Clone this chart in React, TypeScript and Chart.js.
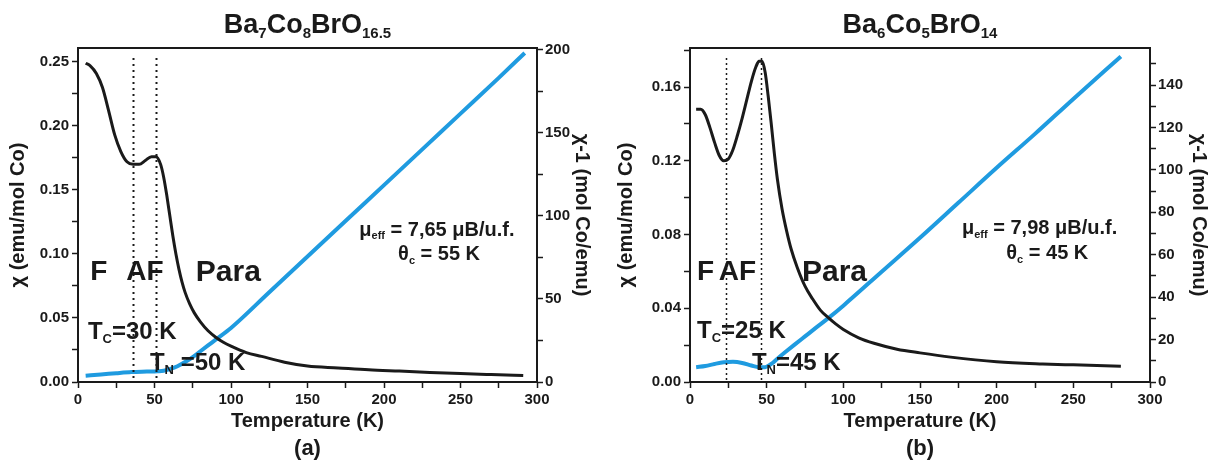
import React, { useEffect, useRef } from 'react';
import { Chart, registerables } from 'chart.js';
Chart.register(...registerables);

// ---------- DATA ----------
// Panel (a) Ba7Co8BrO16.5
const tempChiA = [5, 8, 12, 16, 20, 24, 28, 32, 36, 40, 44, 48, 51, 54, 56, 58, 60, 62, 64, 66, 68, 70, 73, 76, 80, 85, 90, 95, 100, 110, 120, 135, 150, 170, 190, 210, 230, 250, 270, 291];
const chiA = [0.249, 0.247, 0.241, 0.230, 0.212, 0.193, 0.180, 0.172, 0.170, 0.170, 0.173, 0.176, 0.176, 0.170, 0.160, 0.146, 0.130, 0.114, 0.100, 0.088, 0.078, 0.070, 0.061, 0.054, 0.047, 0.040, 0.035, 0.031, 0.028, 0.023, 0.020, 0.0155, 0.0125, 0.011, 0.0095, 0.0085, 0.0075, 0.0066, 0.0058, 0.005];
const tempInvA = [5, 15, 25, 35, 45, 52, 56, 60, 65, 70, 75, 80, 85, 90, 100, 125, 150, 175, 200, 225, 250, 275, 292];
const chiInvA = [3.8, 4.5, 5.3, 6.0, 6.3, 6.5, 6.8, 7.8, 9.5, 12, 15, 18.5, 22, 25.5, 32.5, 54, 75.5, 97, 118.5, 140, 161.5, 183, 198];
const transitionsA = [36, 51];

// Panel (b) Ba6Co5BrO14
const tempChiB = [4, 7, 10, 13, 16, 19, 22, 25, 28, 31, 34, 37, 40, 43, 45, 47, 49, 51, 53, 55, 57, 60, 63, 66, 70, 75, 80, 85, 90, 95, 100, 110, 120, 135, 150, 170, 200, 230, 250, 281];
const chiB = [0.148, 0.148, 0.145, 0.138, 0.130, 0.123, 0.120, 0.121, 0.126, 0.134, 0.143, 0.153, 0.163, 0.171, 0.174, 0.174, 0.168, 0.155, 0.140, 0.124, 0.110, 0.094, 0.082, 0.072, 0.062, 0.052, 0.045, 0.039, 0.035, 0.0315, 0.0285, 0.024, 0.021, 0.0178, 0.0158, 0.0135, 0.011, 0.0098, 0.0093, 0.0086];
const tempInvB = [4, 10, 16, 22, 28, 34, 40, 45, 49, 53, 57, 62, 68, 75, 82, 90, 100, 125, 150, 175, 200, 225, 250, 281];
const chiInvB = [7, 7.5, 8.5, 9.3, 9.5, 9, 7.8, 7, 7, 8.5, 11, 14, 17.5, 21.5, 25.5, 30, 36, 52, 68, 84.5, 101, 117, 133.5, 153.5];
const transitionsB = [23.5, 46.3];

const xTicksLabelStep = 50;

// ---------- STYLE ----------
const FONT = '"Liberation Sans", Arial, Helvetica, sans-serif';
const BLACK = '#1a1a1a';
const BLUE = '#1f9be0';

type Seg = [string, boolean];
type TextItem = { segs: Seg[]; T: number; v: number; size: number; align: 'left' | 'center' };

type Panel = {
  t: number[]; chi: number[]; tInv: number[]; chiInv: number[];
  transitions: number[];
  yMax: number; yStep: number; yMajor: number;
  y2Max: number; y2Step: number; y2Major: number;
  left: number; right: number; top: number; bottom: number;
  leftTitlePad: number; rightTitlePad: number;
  title: Seg[]; label: string; texts: TextItem[];
  dotWidth: number; dash: number[];
};

const panelA: Panel = {
  t: tempChiA, chi: chiA, tInv: tempInvA, chiInv: chiInvA, transitions: transitionsA,
  yMax: 0.2609, yStep: 0.025, yMajor: 0.05,
  y2Max: 201, y2Step: 25, y2Major: 50,
  left: 78, right: 77, top: 48, bottom: 86,
  leftTitlePad: 6, rightTitlePad: 20,
  title: [['Ba', false], ['7', true], ['Co', false], ['8', true], ['BrO', false], ['16.5', true]],
  label: '(a)',
  dotWidth: 2, dash: [2, 4],
  texts: [
    { segs: [['F', false]], T: 8, v: 0.0875, size: 28, align: 'left' },
    { segs: [['AF', false]], T: 31.5, v: 0.0875, size: 28, align: 'left' },
    { segs: [['Para', false]], T: 77, v: 0.0875, size: 30, align: 'left' },
    { segs: [['\u03bc', false], ['eff', true], [' = 7,65 \u03bcB/u.f.', false]], T: 234.6, v: 0.120, size: 20, align: 'center' },
    { segs: [['\u03b8', false], ['c', true], [' = 55 K', false]], T: 236, v: 0.1008, size: 20, align: 'center' },
    { segs: [['T', false], ['C', true], ['=30 K', false]], T: 6.5, v: 0.0406, size: 24, align: 'left' },
    { segs: [['T', false], ['N', true], [' =50 K', false]], T: 47, v: 0.0164, size: 24, align: 'left' },
  ],
};

const panelB: Panel = {
  t: tempChiB, chi: chiB, tInv: tempInvB, chiInv: chiInvB, transitions: transitionsB,
  yMax: 0.1812, yStep: 0.02, yMajor: 0.04,
  y2Max: 157.5, y2Step: 10, y2Major: 20,
  left: 76, right: 78, top: 48, bottom: 86,
  leftTitlePad: 0, rightTitlePad: 17,
  title: [['Ba', false], ['6', true], ['Co', false], ['5', true], ['BrO', false], ['14', true]],
  label: '(b)',
  dotWidth: 1.5, dash: [2, 3],
  texts: [
    { segs: [['F', false]], T: 4.6, v: 0.0607, size: 28, align: 'left' },
    { segs: [['AF', false]], T: 18.8, v: 0.0607, size: 28, align: 'left' },
    { segs: [['Para', false]], T: 73, v: 0.0607, size: 30, align: 'left' },
    { segs: [['\u03bc', false], ['eff', true], [' = 7,98 \u03bcB/u.f.', false]], T: 228, v: 0.084, size: 20, align: 'center' },
    { segs: [['\u03b8', false], ['c', true], [' = 45 K', false]], T: 233, v: 0.0705, size: 20, align: 'center' },
    { segs: [['T', false], ['C', true], ['=25 K', false]], T: 4.6, v: 0.0287, size: 24, align: 'left' },
    { segs: [['T', false], ['N', true], ['=45 K', false]], T: 40.4, v: 0.0114, size: 24, align: 'left' },
  ],
};

// ---------- HELPERS ----------
function drawRich(ctx: CanvasRenderingContext2D, segs: Seg[], x: number, baseline: number, align: 'left' | 'center', size: number, subSize: number) {
  const widths = segs.map(([txt, sub]) => {
    ctx.font = `bold ${sub ? subSize : size}px ${FONT}`;
    return ctx.measureText(txt).width;
  });
  const total = widths.reduce((a, b) => a + b, 0);
  let cx = align === 'center' ? x - total / 2 : x;
  ctx.textAlign = 'left';
  ctx.textBaseline = 'alphabetic';
  segs.forEach(([txt, sub], i) => {
    ctx.font = `bold ${sub ? subSize : size}px ${FONT}`;
    ctx.fillText(txt, cx, baseline + (sub ? size * 0.18 : 0));
    cx += widths[i];
  });
}

function isMajor(v: number, major: number) {
  const r = v / major;
  return Math.abs(r - Math.round(r)) < 1e-6;
}

function makePlugin(p: Panel) {
  return {
    id: 'annot',
    afterDraw(chart: any) {
      const ctx: CanvasRenderingContext2D = chart.ctx;
      const { left, right, top, bottom } = chart.chartArea;
      const xs = chart.scales.x;
      const ys = chart.scales.y;
      ctx.save();
      // top frame line
      ctx.strokeStyle = BLACK;
      ctx.lineWidth = 2;
      ctx.beginPath();
      ctx.moveTo(left - 1, top);
      ctx.lineTo(right + 1, top);
      ctx.stroke();
      // transition dotted lines
      ctx.lineWidth = p.dotWidth;
      ctx.setLineDash(p.dash);
      p.transitions.forEach((T) => {
        const px = Math.round(xs.getPixelForValue(T)) + 0.5;
        ctx.beginPath();
        ctx.moveTo(px, top + 10);
        ctx.lineTo(px, bottom);
        ctx.stroke();
      });
      ctx.setLineDash([]);
      // texts
      ctx.fillStyle = BLACK;
      p.texts.forEach((t) => {
        const x = xs.getPixelForValue(t.T);
        const y = ys.getPixelForValue(t.v) + t.size * 0.36;
        drawRich(ctx, t.segs, x, y, t.align, t.size, Math.round(t.size * 0.55));
      });
      // title
      const cx = (left + right) / 2;
      drawRich(ctx, p.title, cx, 33, 'center', 27, 15);
      // panel label
      ctx.font = `bold 22px ${FONT}`;
      ctx.textAlign = 'center';
      ctx.textBaseline = 'middle';
      ctx.fillText(p.label, cx, 449);
      ctx.restore();
    },
  };
}

function toXY(xs: number[], ys: number[]) {
  return xs.map((x, i) => ({ x, y: ys[i] }));
}

function makeConfig(p: Panel): any {
  const tickFont = { family: FONT, size: 15, weight: 'bold' as const };
  const titleFont = { family: FONT, size: 20, weight: 'bold' as const };
  const grid = { drawOnChartArea: false, drawTicks: true, tickLength: 6, tickColor: BLACK, tickWidth: 1.5 };
  const border = { display: true, color: BLACK, width: 2 };
  return {
    type: 'line',
    data: {
      datasets: [
        {
          data: toXY(p.t, p.chi), yAxisID: 'y', borderColor: BLACK, borderWidth: 3,
          pointRadius: 0, tension: 0.4, cubicInterpolationMode: 'monotone', fill: false,
        },
        {
          data: toXY(p.tInv, p.chiInv), yAxisID: 'y2', borderColor: BLUE, borderWidth: 4,
          pointRadius: 0, tension: 0.4, cubicInterpolationMode: 'monotone', fill: false,
        },
      ],
    },
    options: {
      responsive: false,
      animation: false,
      devicePixelRatio: 1,
      layout: { padding: { top: p.top, left: 0, right: 0, bottom: 0 } },
      plugins: { legend: { display: false }, tooltip: { enabled: false }, title: { display: false } },
      scales: {
        x: {
          type: 'linear', position: 'bottom', min: 0, max: 300,
          ticks: {
            stepSize: 25, autoSkip: false, maxRotation: 0, includeBounds: false,
            font: tickFont, color: BLACK, padding: 3,
            callback: (v: number) => (isMajor(v, xTicksLabelStep) ? String(Math.round(v)) : ''),
          },
          grid, border,
          title: { display: true, text: 'Temperature (K)', font: titleFont, color: BLACK, padding: { top: 4, bottom: 35 } },
          afterFit: (s: any) => { s.height = p.bottom; },
        },
        y: {
          type: 'linear', position: 'left', min: 0, max: p.yMax,
          ticks: {
            stepSize: p.yStep, autoSkip: false, includeBounds: false,
            font: tickFont, color: BLACK, padding: 3,
            callback: (v: number) => (isMajor(v, p.yMajor) ? Number(v).toFixed(2) : ''),
          },
          grid, border,
          title: { display: true, text: '\u03c7 (emu/mol Co)', font: titleFont, color: BLACK, padding: { top: p.leftTitlePad, bottom: 0 } },
          afterFit: (s: any) => { s.width = p.left; },
        },
        y2: {
          type: 'linear', position: 'right', min: 0, max: p.y2Max,
          ticks: {
            stepSize: p.y2Step, autoSkip: false, includeBounds: false,
            font: tickFont, color: BLACK, padding: 2,
            callback: (v: number) => (isMajor(v, p.y2Major) ? String(Math.round(v)) : ''),
          },
          grid, border,
          title: { display: true, text: '\u03c7-1 (mol Co/emu)', font: titleFont, color: BLACK, padding: { top: p.rightTitlePad, bottom: 0 } },
          afterFit: (s: any) => { s.width = p.right; },
        },
      },
    },
    plugins: [makePlugin(p)],
  };
}

function PanelChart({ panel }: { panel: Panel }) {
  const ref = useRef<HTMLCanvasElement | null>(null);
  useEffect(() => {
    if (!ref.current) return;
    const chart = new Chart(ref.current, makeConfig(panel));
    return () => chart.destroy();
  }, [panel]);
  return <canvas ref={ref} width={614} height={468} style={{ display: 'block', width: 614, height: 468 }} />;
}

export default function App() {
  return (
    <div style={{ position: 'fixed', left: 0, top: 0, width: 1228, height: 468, background: '#fff', display: 'flex' }}>
      <PanelChart panel={panelA} />
      <PanelChart panel={panelB} />
    </div>
  );
}
